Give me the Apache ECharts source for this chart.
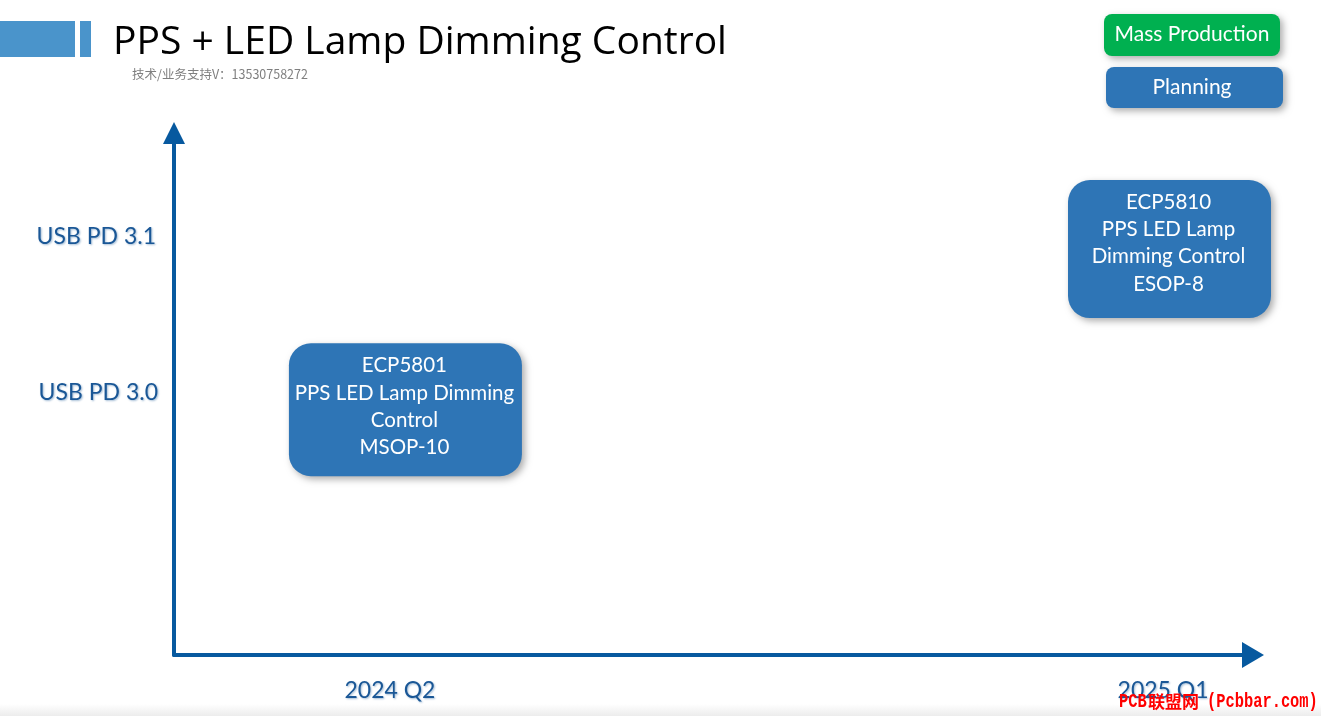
<!DOCTYPE html>
<html><head><meta charset="utf-8">
<style>html,body{margin:0;padding:0;background:#fff;overflow:hidden}#c{width:1321px;height:716px}</style>
<script src="https://cdn.jsdelivr.net/npm/echarts@6/dist/echarts.min.js"></script>
</head><body><div id="c"></div>
<script>
// Data
const quarterTicks = [0, 3];
const quarterLabels = ['2024 Q2', '2025 Q1'];
const pdTicks = [0, 1];
const pdLabels = ['USB PD 3.0', 'USB PD 3.1'];
const productNames = ['ECP5801\nPPS LED Lamp Dimming\nControl\nMSOP-10', 'ECP5810\nPPS LED Lamp\nDimming Control\nESOP-8'];
const productQuarter = [0.06, 3.025];
const productPd = [-0.12, 0.91];

const BLUE = '#2e75b6', AXIS = '#07599f', LABEL = '#1a5796', FONT = 'Lato, "Open Sans", sans-serif';
const boxSizes = [[233, 133], [203, 138]];
const textShift = [[-1, -3], [-1, -6]];
const shadow = {shadowBlur: 7, shadowOffsetX: 3, shadowOffsetY: 3, shadowColor: 'rgba(0,0,0,0.32)'};
const glow = {textShadowColor: 'rgba(26,87,150,0.4)', textShadowBlur: 2, textShadowOffsetX: 1, textShadowOffsetY: 1};
const pdRich = {
  a: Object.assign({padding: [4, 0, 0, 0], color: LABEL, fontFamily: FONT, fontSize: 23}, glow),
  b: Object.assign({padding: [4, 2, 0, 0], color: LABEL, fontFamily: FONT, fontSize: 23}, glow)
};
const markFont = 'bold 15.4px "Liberation Mono"';

const chart = echarts.init(document.getElementById('c'), null, {renderer: 'canvas'});
chart.setOption({
  animation: false,
  backgroundColor: '#fff',
  title: [
    {text: 'PPS + LED Lamp Dimming Control', left: 113, top: 23, padding: 0,
     textStyle: {fontFamily: '"Open Sans"', fontWeight: 'normal', fontSize: 39, color: '#000'}},
    {text: '技术/业务支持V：13530758272', left: 132, top: 68, padding: 0,
     textStyle: {fontFamily: '"Noto Sans CJK SC"', fontWeight: 'normal', fontSize: 12.5, color: '#7f7f7f'}}
  ],
  grid: {left: 174, right: 68, top: 133, bottom: 61},
  xAxis: {
    type: 'value', min: -0.838, max: 3.349,
    splitLine: {show: false}, axisTick: {show: false},
    axisLine: {onZero: false, symbol: ['none', 'triangle'], symbolSize: [26, 22], lineStyle: {color: AXIS, width: 4}},
    axisLabel: Object.assign({customValues: quarterTicks, margin: 24, color: LABEL, fontFamily: FONT, fontSize: 23,
      formatter: v => quarterLabels[quarterTicks.indexOf(v)]}, glow)
  },
  yAxis: {
    type: 'value', min: -1.692, max: 1.654,
    splitLine: {show: false}, axisTick: {show: false},
    axisLine: {onZero: false, symbol: ['none', 'triangle'], symbolSize: [22, 22], lineStyle: {color: AXIS, width: 4}},
    axisLabel: {customValues: pdTicks, margin: 16, rich: pdRich,
      formatter: v => '{' + (v === 0 ? 'a' : 'b') + '|' + pdLabels[pdTicks.indexOf(v)] + '}'}
  },
  series: [{
    type: 'custom',
    coordinateSystem: 'cartesian2d',
    data: productQuarter.map((x, i) => [x, productPd[i], i]),
    renderItem(params, api) {
      const p = api.coord([api.value(0), api.value(1)]);
      const i = api.value(2), s = boxSizes[i];
      return {type: 'group', children: [
        {type: 'rect', shape: {x: p[0] - s[0] / 2, y: p[1] - s[1] / 2, width: s[0], height: s[1], r: 22},
         style: Object.assign({fill: BLUE}, shadow)},
        {type: 'text', x: p[0] + textShift[i][0], y: p[1] + textShift[i][1], style: {text: productNames[i], fill: '#fff', align: 'center', verticalAlign: 'middle',
          font: '20.5px ' + FONT, lineHeight: 27.3}}
      ]};
    }
  }],
  graphic: [
    {type: 'rect', silent: true, shape: {x: 0, y: 704, width: 1321, height: 12},
     style: {fill: new echarts.graphic.LinearGradient(0, 0, 0, 1, [{offset: 0, color: '#ffffff'}, {offset: 1, color: '#ececec'}])}},
    {type: 'rect', shape: {x: 0, y: 21, width: 75, height: 36}, style: {fill: '#4a94cb'}},
    {type: 'rect', shape: {x: 80, y: 21, width: 11, height: 36}, style: {fill: '#4a94cb'}},
    {type: 'rect', shape: {x: 1104, y: 14, width: 176, height: 42, r: 8}, style: Object.assign({fill: '#00b050'}, shadow)},
    {type: 'text', x: 1192, y: 34, style: {text: 'Mass Production', fill: '#fff', align: 'center', verticalAlign: 'middle', font: '21px ' + FONT}},
    {type: 'rect', shape: {x: 1106, y: 67, width: 177, height: 41, r: 8}, style: Object.assign({fill: BLUE}, shadow)},
    {type: 'text', x: 1192, y: 87, style: {text: 'Planning', fill: '#fff', align: 'center', verticalAlign: 'middle', font: '21px ' + FONT}},
    {type: 'text', x: 1119, y: 702, scaleY: 1.35, originY: 0, z: 100, style: {text: 'PCB', verticalAlign: 'middle', fill: '#ff0000', font: markFont}},
    {type: 'text', x: 1148, y: 702, z: 100, style: {text: '联盟网', verticalAlign: 'middle', fill: '#ff0000', font: 'bold 17px "Noto Sans CJK SC"'}},
    {type: 'text', x: 1207, y: 702, scaleY: 1.35, originY: 0, z: 100, style: {text: '(Pcbbar.com)', verticalAlign: 'middle', fill: '#ff0000', font: markFont}}
  ]
});
</script></body></html>
